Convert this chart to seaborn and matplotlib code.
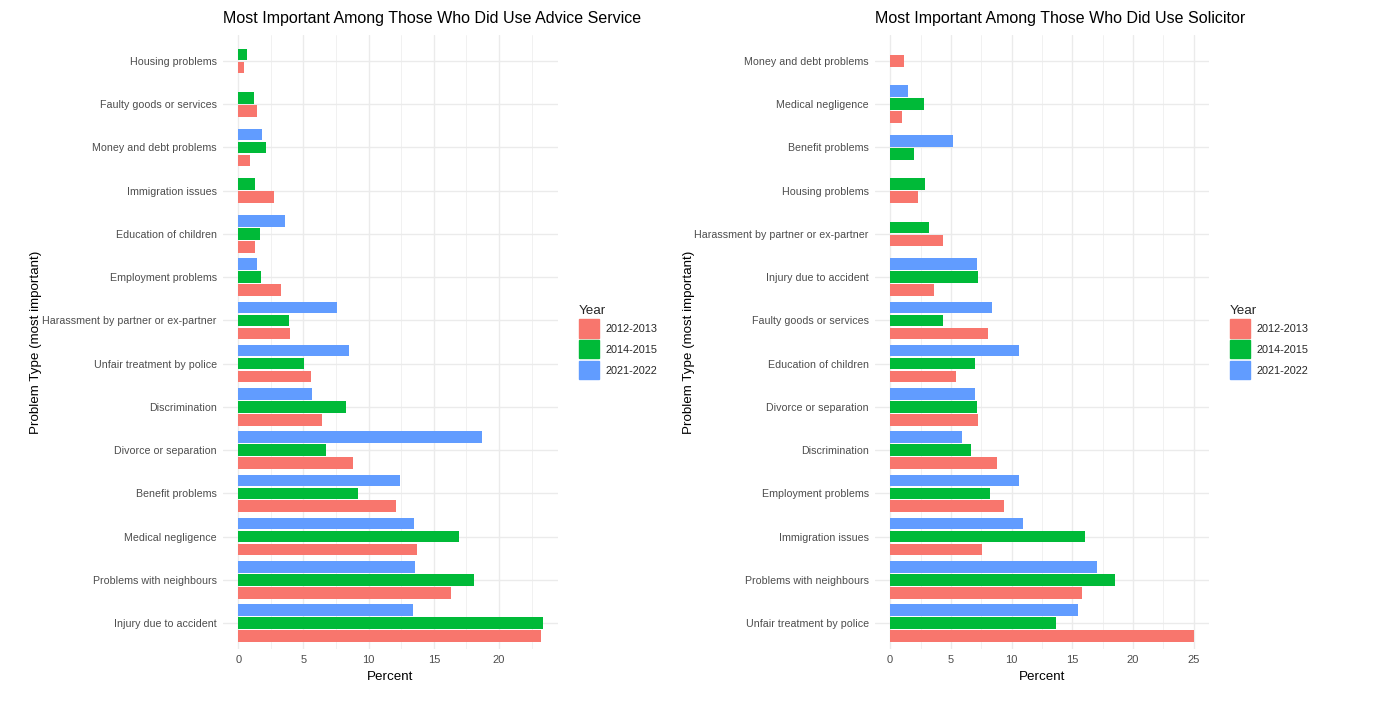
import matplotlib
matplotlib.use("Agg")
import matplotlib.pyplot as plt
import matplotlib.patches as mpatches
from matplotlib.ticker import MultipleLocator
import seaborn as sns
import pandas as pd

sns.set_theme(style="white")
plt.rcParams['font.family'] = ['Liberation Sans', 'DejaVu Sans']

YEARS = ["2012-2013", "2014-2015", "2021-2022"]
COLORS = {"2012-2013": "#F8766D", "2014-2015": "#00BA38", "2021-2022": "#619CFF"}

# panel 1: advice service (top to bottom)
advice_cats = ["Housing problems", "Faulty goods or services", "Money and debt problems",
               "Immigration issues", "Education of children", "Employment problems",
               "Harassment by partner or ex-partner", "Unfair treatment by police",
               "Discrimination", "Divorce or separation", "Benefit problems",
               "Medical negligence", "Problems with neighbours", "Injury due to accident"]
advice_2012 = [0.41, 1.41, 0.92, 2.71, 1.26, 3.25, 3.94, 5.58, 6.42, 8.83, 12.08, 13.69, 16.30, 23.26]
advice_2014 = [0.69, 1.23, 2.10, 1.26, 1.64, 1.77, 3.89, 5.04, 8.24, 6.70, 9.21, 16.94, 18.07, 23.36]
advice_2021 = [None, None, 1.79, None, 3.56, 1.43, 7.55, 8.50, 5.66, 18.68, 12.41, 13.48, 13.56, 13.43]

# panel 2: solicitor (top to bottom)
solicitor_cats = ["Money and debt problems", "Medical negligence", "Benefit problems",
                  "Housing problems", "Harassment by partner or ex-partner",
                  "Injury due to accident", "Faulty goods or services", "Education of children",
                  "Divorce or separation", "Discrimination", "Employment problems",
                  "Immigration issues", "Problems with neighbours", "Unfair treatment by police"]
solicitor_2012 = [1.15, 1.01, None, 2.30, 4.31, 3.60, 8.04, 5.38, 7.22, 8.81, 9.41, 7.57, 15.78, 25.00]
solicitor_2014 = [None, 2.77, 2.00, 2.83, 3.21, 7.19, 4.36, 6.95, 7.14, 6.62, 8.21, 16.08, 18.52, 13.69]
solicitor_2021 = [None, 1.46, 5.19, None, None, 7.11, 8.40, 10.62, 6.95, 5.90, 10.57, 10.92, 17.01, 15.50]


def to_long(cats, series):
    rows = []
    for year, vals in zip(YEARS, series):
        for c, v in zip(cats, vals):
            if v is not None:
                rows.append({"Problem": c, "Year": year, "Percent": v})
    return pd.DataFrame(rows)


def draw_panel(ax, cats, series, title):
    df = to_long(cats, series)
    sns.barplot(data=df, y="Problem", x="Percent", hue="Year", order=cats,
                hue_order=YEARS[::-1], palette=COLORS, orient="h", saturation=1,
                width=0.9, gap=0.1, dodge=True, legend=False, ax=ax,
                edgecolor="none", linewidth=0)
    # ggplot-style dodge: recentre groups that lack a year
    groups = {}
    for p in ax.patches:
        c = p.get_y() + p.get_height() / 2
        groups.setdefault(round(c), []).append((c, p))
    for idx, items in groups.items():
        items.sort(key=lambda t: t[0])
        n = len(items)
        for k, (c, p) in enumerate(items):
            nc = idx + (k - (n - 1) / 2) * 0.3
            p.set_y(nc - p.get_height() / 2)

    xmax = df["Percent"].max()
    ax.set_xlim(-0.05 * xmax, 1.05 * xmax)
    ax.set_ylim(len(cats) - 0.4, -0.6)
    ax.xaxis.set_major_locator(MultipleLocator(5))
    ax.xaxis.set_minor_locator(MultipleLocator(2.5))
    ax.grid(which="major", axis="both", color="#EBEBEB", linewidth=1.0)
    ax.grid(which="minor", axis="x", color="#EBEBEB", linewidth=0.5)
    ax.set_axisbelow(True)
    sns.despine(ax=ax, left=True, bottom=True)
    ax.tick_params(axis="both", which="both", length=0, labelsize=7.7, labelcolor="#4D4D4D")
    ax.tick_params(axis="x", labelsize=8.0, pad=4.5)
    ax.tick_params(axis="y", pad=4.5)
    ax.set_xlabel("Percent", fontsize=9.6, color="black", labelpad=4.5)
    ax.set_ylabel("Problem Type (most important)", fontsize=9.6, color="black")
    ax.yaxis.set_label_coords(-0.54, 0.5)
    ax.set_title(title, loc="left", fontsize=11.5, color="black", pad=9)

    handles = [mpatches.Patch(color=COLORS[y], label=y) for y in YEARS]
    ax.legend(handles=handles, title="Year", loc="center left",
              bbox_to_anchor=(1.034, 0.5), frameon=False, fontsize=7.8,
              title_fontsize=9.6, handlelength=1.8, handleheight=2.2,
              handletextpad=0.65, labelspacing=0.25, alignment="left")


fig = plt.figure(figsize=(13.78, 7.03), dpi=100)
ax1 = fig.add_axes([223 / 1378, 1 - 649 / 703, 335 / 1378, 614 / 703])
ax2 = fig.add_axes([875 / 1378, 1 - 649 / 703, 334 / 1378, 614 / 703])

draw_panel(ax1, advice_cats, [advice_2012, advice_2014, advice_2021],
           "Most Important Among Those Who Did Use Advice Service")
draw_panel(ax2, solicitor_cats, [solicitor_2012, solicitor_2014, solicitor_2021],
           "Most Important Among Those Who Did Use Solicitor")

fig.savefig("out.png", dpi=100, facecolor="white")
